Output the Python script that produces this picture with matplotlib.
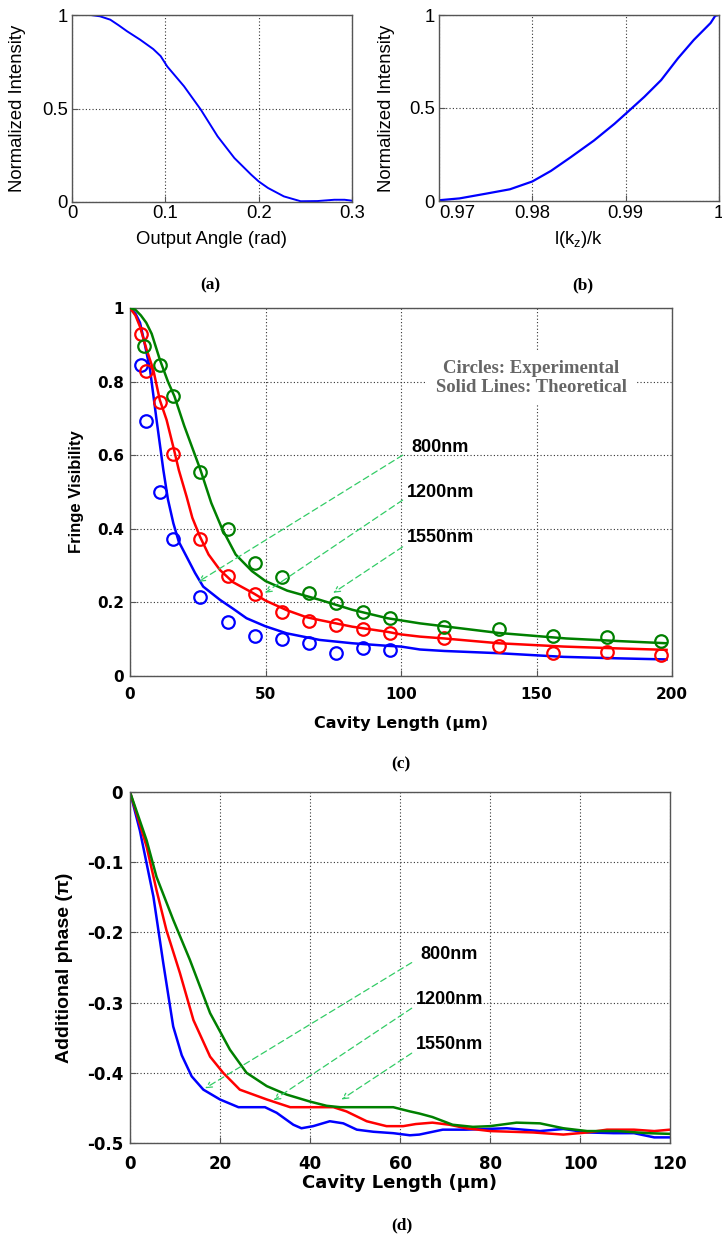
import matplotlib
matplotlib.use("Agg")
import matplotlib.pyplot as plt

plt.rcParams['axes.unicode_minus'] = False
plt.rcParams['mathtext.fontset'] = 'custom'
plt.rcParams['mathtext.rm'] = 'Liberation Sans'
plt.rcParams['mathtext.it'] = 'Liberation Sans'

# ---------------- data ----------------
# (a) intensity vs output angle
a_x = [0, 0.02, 0.03, 0.041, 0.05, 0.059, 0.073, 0.087, 0.095, 0.102, 0.12, 0.138,
       0.156, 0.174, 0.192, 0.2, 0.21, 0.227, 0.245, 0.263, 0.281, 0.292, 0.3]
a_y = [1, 1, 0.993, 0.975, 0.945, 0.913, 0.868, 0.818, 0.78, 0.725, 0.619, 0.494,
       0.351, 0.235, 0.146, 0.11, 0.075, 0.03, 0.004, 0.005, 0.012, 0.012, 0.007]

# (b) intensity vs l(kz)/k
b_x = [0.97, 0.9722, 0.9751, 0.9776, 0.98, 0.982, 0.9841, 0.9866, 0.9888, 0.9902,
       0.992, 0.9938, 0.9956, 0.9973, 0.9991, 0.9996, 1.0]
b_y = [0.004, 0.014, 0.040, 0.063, 0.105, 0.162, 0.235, 0.325, 0.415, 0.478,
       0.560, 0.650, 0.767, 0.866, 0.957, 0.996, 1.0]

# (c) fringe visibility: experimental circles
c_x_blue = [4, 6, 11, 16, 26, 36, 46, 56, 66, 76, 86, 96]
c_blue = [0.845, 0.694, 0.499, 0.372, 0.214, 0.148, 0.109, 0.100, 0.089, 0.063, 0.075, 0.072]
c_x_red = [4, 6, 11, 16, 26, 36, 46, 56, 66, 76, 86, 96, 116, 136, 156, 176, 196]
c_red = [0.928, 0.83, 0.744, 0.604, 0.372, 0.273, 0.223, 0.175, 0.150, 0.139, 0.127,
         0.116, 0.102, 0.082, 0.062, 0.066, 0.057]
c_x_green = [5, 11, 16, 26, 36, 46, 56, 66, 76, 86, 96, 116, 136, 156, 176, 196]
c_green = [0.897, 0.845, 0.762, 0.553, 0.399, 0.306, 0.270, 0.226, 0.199, 0.175, 0.157,
           0.132, 0.127, 0.109, 0.105, 0.096]

# (c) theoretical lines
ct_x_green = [0, 2, 4, 6, 8, 11, 14, 16.4, 20, 23, 26, 30, 34, 39, 45, 50, 58, 70, 82, 95,
              107, 116, 136, 161, 180, 198]
ct_green = [1, 0.995, 0.98, 0.96, 0.93, 0.86, 0.8, 0.76, 0.68, 0.62, 0.56, 0.47, 0.40,
            0.33, 0.285, 0.258, 0.232, 0.207, 0.18, 0.157, 0.143, 0.135, 0.117, 0.102,
            0.095, 0.089]
ct_x_red = [0, 2, 3.7, 6, 8.6, 11, 13.5, 16.4, 18, 20.9, 23, 25.8, 29, 33.2, 38, 45.5, 50,
            57.8, 65, 70, 82, 95, 100, 107, 116, 136, 160, 180, 198]
ct_red = [1, 0.98, 0.949, 0.89, 0.832, 0.75, 0.696, 0.61, 0.56, 0.487, 0.43, 0.379, 0.33,
          0.288, 0.255, 0.225, 0.205, 0.179, 0.16, 0.152, 0.134, 0.120, 0.113, 0.107, 0.102,
          0.089, 0.080, 0.075, 0.071]
ct_x_blue = [0, 2, 3.7, 5.5, 7.4, 9.8, 12.3, 14, 16, 18, 20.9, 24, 27, 33.2, 38, 43, 50,
             57.8, 70, 82, 95, 100, 107, 116, 136, 160, 180, 198]
ct_blue = [1, 0.985, 0.96, 0.9, 0.832, 0.696, 0.56, 0.48, 0.415, 0.365, 0.324, 0.28, 0.243,
           0.207, 0.183, 0.157, 0.135, 0.116, 0.098, 0.089, 0.082, 0.080, 0.072, 0.068,
           0.062, 0.052, 0.048, 0.045]

# (d) additional phase
d_x_blue = [0, 2.2, 5.2, 7.4, 9.6, 11.5, 13.7, 16.3, 20, 24.1, 30, 32.6, 36.3, 38.1, 40.7,
            44.4, 47.4, 50.4, 54.1, 58.5, 62.2, 64.3, 69.5, 74.7, 83.7, 91.1, 96.3, 101.6,
            107.5, 112, 116.5, 120]
d_blue = [0, -0.055, -0.149, -0.244, -0.334, -0.375, -0.405, -0.424, -0.438, -0.449, -0.449,
          -0.457, -0.474, -0.479, -0.476, -0.469, -0.472, -0.481, -0.484, -0.486, -0.489,
          -0.488, -0.481, -0.481, -0.479, -0.483, -0.480, -0.485, -0.486, -0.486, -0.492,
          -0.492]
d_x_red = [0, 3.7, 5.9, 8.1, 11.1, 14.1, 17.8, 20.7, 24.4, 30.4, 35.6, 45.2, 48.1, 52.6, 57,
           60.7, 63.5, 67.2, 71, 74.7, 80, 89.6, 96.3, 101.6, 106, 112, 116.5, 120]
d_red = [0, -0.078, -0.140, -0.197, -0.258, -0.325, -0.377, -0.400, -0.424, -0.438, -0.449,
         -0.449, -0.455, -0.469, -0.476, -0.476, -0.473, -0.471, -0.474, -0.479, -0.483,
         -0.485, -0.488, -0.485, -0.481, -0.481, -0.483, -0.481]
d_x_green = [0, 3.7, 5.9, 9.6, 13.3, 17.8, 22.2, 25.9, 30.4, 34.8, 40, 43.7, 46.7, 58.5, 62.2,
             64.3, 67.2, 71.7, 76.2, 80, 85.9, 91.1, 96.3, 101.6, 108.3, 115, 120]
d_green = [0, -0.069, -0.121, -0.182, -0.239, -0.315, -0.367, -0.400, -0.419, -0.431, -0.441,
           -0.447, -0.449, -0.449, -0.455, -0.458, -0.463, -0.474, -0.477, -0.476, -0.471,
           -0.472, -0.479, -0.483, -0.483, -0.486, -0.487]

wavelength_labels = ['800nm', '1200nm', '1550nm']

# ---------------- styling helpers ----------------
BLUE, RED, GREEN = '#0000ff', '#ff0000', '#008000'
ARROW = '#33cc66'
SPINE = '#555555'
W, H = 722, 1239


def px_axes(l, r, t, b):
    return [l / W, 1 - b / H, (r - l) / W, (b - t) / H]


def style(ax, tick_font, tick_size, weight, xpad, ypad):
    ax.grid(True, linestyle=(0, (1, 2)), color='#333333', linewidth=0.8)
    ax.set_axisbelow(True)
    for s in ax.spines.values():
        s.set_color(SPINE)
        s.set_linewidth(1.0)
    ax.tick_params(direction='in', length=4, color=SPINE, width=0.8)
    ax.tick_params(axis='x', pad=xpad)
    ax.tick_params(axis='y', pad=ypad)
    for lab in ax.get_xticklabels() + ax.get_yticklabels():
        lab.set_fontfamily(tick_font)
        lab.set_fontsize(tick_size)
        lab.set_fontweight(weight)


def place_labels(ax, xl, yl, xpos, ypos):
    ax.set_xlabel(xl[0], fontfamily=xl[1], fontsize=xl[2], fontweight=xl[3])
    ax.set_ylabel(yl[0], fontfamily=yl[1], fontsize=yl[2], fontweight=yl[3])
    ax.xaxis.set_label_coords(0.5, xpos)
    ax.yaxis.set_label_coords(ypos, 0.5)
    ax.xaxis.label.set_va('center')
    ax.yaxis.label.set_va('center')


fig = plt.figure(figsize=(7.22, 12.39), dpi=100)

# ---------------- (a) ----------------
axa = fig.add_axes(px_axes(72, 352, 15, 202))
axa.plot(a_x, a_y, color=BLUE, lw=1.4)
axa.set_xlim(0, 0.3)
axa.set_ylim(0, 1)
axa.set_xticks([0, 0.1, 0.2, 0.3])
axa.set_xticklabels(['0', '0.1', '0.2', '0.3'])
axa.set_yticks([0, 0.5, 1])
axa.set_yticklabels(['0', '0.5', '1'])
style(axa, 'Liberation Sans', 13.3, 'normal', 2.5, 3)
place_labels(axa, ('Output Angle (rad)', 'Liberation Sans', 13.3, 'normal'),
             ('Normalized Intensity', 'Liberation Sans', 13.3, 'normal'), -0.198, -0.193)

# ---------------- (b) ----------------
axb = fig.add_axes(px_axes(439, 719, 15, 201))
axb.plot(b_x, b_y, color=BLUE, lw=1.6)
axb.set_xlim(0.97, 1.0)
axb.set_ylim(0, 1)
axb.set_xticks([0.97, 0.98, 0.99, 1.0])
axb.set_xticklabels(['0.97', '0.98', '0.99', '1'])
axb.set_yticks([0, 0.5, 1])
axb.set_yticklabels(['0', '0.5', '1'])
style(axb, 'Liberation Sans', 13.3, 'normal', 3, 3)
axb.get_xticklabels()[0].set_ha('left')
place_labels(axb, (r'l(k$_{\mathrm{z}}$)/k', 'Liberation Sans', 13.3, 'normal'),
             ('Normalized Intensity', 'Liberation Sans', 13.3, 'normal'), -0.209, -0.186)

# ---------------- (c) ----------------
axc = fig.add_axes(px_axes(130, 672, 308, 676))
axc.plot(ct_x_blue, ct_blue, color=BLUE, lw=1.8, zorder=4)
axc.plot(ct_x_red, ct_red, color=RED, lw=1.8, zorder=4)
axc.plot(ct_x_green, ct_green, color=GREEN, lw=1.8, zorder=4)
mk = dict(marker='o', linestyle='none', mfc='none', ms=9, mew=1.6, zorder=5)
axc.plot(c_x_blue, c_blue, color=BLUE, **mk)
axc.plot(c_x_red, c_red, color=RED, **mk)
axc.plot(c_x_green, c_green, color=GREEN, **mk)
axc.set_xlim(0, 200)
axc.set_ylim(0, 1)
axc.set_xticks([0, 50, 100, 150, 200])
axc.set_yticks([0, 0.2, 0.4, 0.6, 0.8, 1])
axc.set_yticklabels(['0', '0.2', '0.4', '0.6', '0.8', '1'])
style(axc, 'DejaVu Sans', 11, 'bold', 8, 4.5)
place_labels(axc, ('Cavity Length (μm)', 'DejaVu Sans', 11.5, 'bold'),
             ('Fringe Visibility', 'Liberation Sans', 12, 'bold'), -0.128, -0.0996)

axc.text(148, 0.81, 'Circles: Experimental\nSolid Lines: Theoretical', ha='center', va='center',
         fontfamily='Liberation Serif', fontweight='bold', fontsize=13.5, color='#666666',
         linespacing=1.15, zorder=3,
         bbox=dict(fc='white', ec='none', pad=6))

c_text_y = [0.62, 0.498, 0.375]
c_arrow_start_y = [0.600, 0.478, 0.351]
c_arrow_end = [(25.2, 0.256), (49.8, 0.226), (75, 0.226)]
for lab, ty, sy, end in zip(wavelength_labels, c_text_y, c_arrow_start_y, c_arrow_end):
    axc.text(102 if lab != '800nm' else 104, ty, lab, ha='left', va='center',
             fontfamily='Liberation Sans', fontweight='bold', fontsize=13, zorder=6)
    axc.annotate('', xy=end, xytext=(100.6, sy),
                 arrowprops=dict(arrowstyle='->', color=ARROW, lw=0.9, linestyle=(0, (5, 3)),
                                 shrinkA=0, shrinkB=0, mutation_scale=10), zorder=6)

# ---------------- (d) ----------------
axd = fig.add_axes(px_axes(130, 670, 792, 1143))
axd.plot(d_x_blue, d_blue, color=BLUE, lw=1.8)
axd.plot(d_x_red, d_red, color=RED, lw=1.8)
axd.plot(d_x_green, d_green, color=GREEN, lw=1.8)
axd.set_xlim(0, 120)
axd.set_ylim(-0.5, 0)
axd.set_xticks([0, 20, 40, 60, 80, 100, 120])
axd.set_yticks([-0.5, -0.4, -0.3, -0.2, -0.1, 0])
axd.set_yticklabels(['-0.5', '-0.4', '-0.3', '-0.2', '-0.1', '0'])
style(axd, 'DejaVu Sans', 12, 'bold', 8.5, 5)
place_labels(axd, ('Cavity Length (μm)', 'DejaVu Sans', 13, 'bold'),
             ('Additional phase (π)', 'Liberation Sans', 14, 'bold'), -0.114, -0.122)

d_text_x = [64.6, 63.5, 63.5]
d_text_y = [-0.231, -0.295, -0.360]
d_arrow_start_y = [-0.243, -0.308, -0.372]
d_arrow_end = [(16.7, -0.422), (31.9, -0.439), (47, -0.438)]
for lab, tx, ty, sy, end in zip(wavelength_labels, d_text_x, d_text_y, d_arrow_start_y, d_arrow_end):
    axd.text(tx, ty, lab, ha='left', va='center',
             fontfamily='Liberation Sans', fontweight='bold', fontsize=13, zorder=6)
    axd.annotate('', xy=end, xytext=(62.6, sy),
                 arrowprops=dict(arrowstyle='->', color=ARROW, lw=0.9, linestyle=(0, (5, 3)),
                                 shrinkA=0, shrinkB=0, mutation_scale=10), zorder=6)

# ---------------- panel captions ----------------
for lab, x, y in [('(a)', 210, 285), ('(b)', 583, 285), ('(c)', 401, 764), ('(d)', 402, 1225)]:
    fig.text(x / W, 1 - y / H, lab, ha='center', va='center', fontfamily='Liberation Serif',
             fontweight='bold', fontsize=12.5)

fig.savefig('out.png', dpi=100)
